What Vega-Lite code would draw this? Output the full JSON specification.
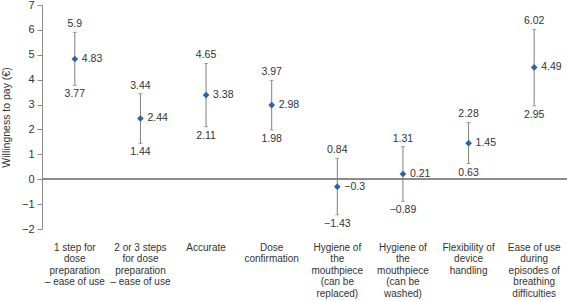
{
  "$schema": "https://vega.github.io/schema/vega-lite/v6.json",
  "autosize": {"type": "none"},
  "width": 525,
  "height": 224,
  "padding": {"left": 42, "top": 5, "right": 0, "bottom": 72},
  "background": "white",
  "config": {
    "view": {"stroke": null},
    "font": "Liberation Sans",
    "axis": {"labelFont": "Liberation Sans", "titleFont": "Liberation Sans", "labelColor": "#333333", "titleColor": "#333333"},
    "axisY": {
      "titleFontSize": 10.5, "titleFontWeight": "normal", "titlePadding": 10,
      "grid": false, "domainColor": "#8c8c8c", "tickColor": "#8c8c8c", "tickSize": 5,
      "labelFontSize": 11, "labelPadding": 3, "labelOverlap": false, "tickCount": 10
    }
  },
  "data": {
    "values": [
      {"cat": "1 step for|dose|preparation|– ease of use", "mean": 4.83, "upper": 5.9, "lower": 3.77},
      {"cat": "2 or 3 steps|for dose|preparation|– ease of use", "mean": 2.44, "upper": 3.44, "lower": 1.44},
      {"cat": "Accurate", "mean": 3.38, "upper": 4.65, "lower": 2.11},
      {"cat": "Dose|confirmation", "mean": 2.98, "upper": 3.97, "lower": 1.98},
      {"cat": "Hygiene of|the|mouthpiece|(can be|replaced)", "mean": -0.3, "upper": 0.84, "lower": -1.43},
      {"cat": "Hygiene of|the|mouthpiece|(can be|washed)", "mean": 0.21, "upper": 1.31, "lower": -0.89},
      {"cat": "Flexibility of|device|handling", "mean": 1.45, "upper": 2.28, "lower": 0.63},
      {"cat": "Ease of use|during|episodes of|breathing|difficulties", "mean": 4.49, "upper": 6.02, "lower": 2.95}
    ]
  },
  "encoding": {
    "x": {
      "field": "cat", "type": "nominal", "sort": null,
      "scale": {"paddingInner": 0, "paddingOuter": 0},
      "axis": {
        "title": null, "domain": false, "ticks": false, "labelAngle": 0,
        "labelPadding": 13, "labelFontSize": 10, "labelLineHeight": 11.6,
        "labelBaseline": "top", "labelAlign": "center", "labelOverlap": false, "labelBound": false,
        "labelExpr": "split(datum.label, '|')"
      }
    }
  },
  "layer": [
    {
      "mark": {"type": "rule", "color": "#8c8c8c", "strokeWidth": 1.5},
      "encoding": {
        "y": {"datum": 0, "type": "quantitative", "scale": {"domain": [-2, 7], "nice": false, "zero": false},
          "axis": {"title": "Willingness to pay (€)", "values": [-2, -1, 0, 1, 2, 3, 4, 5, 6, 7], "format": "d"}},
        "x": null
      }
    },
    {
      "mark": {"type": "rule", "color": "#7f7f7f", "strokeWidth": 1},
      "encoding": {
        "y": {
          "field": "lower", "type": "quantitative",
          "scale": {"domain": [-2, 7], "nice": false, "zero": false},
          "axis": {"title": "Willingness to pay (€)", "values": [-2, -1, 0, 1, 2, 3, 4, 5, 6, 7], "format": "d"}
        },
        "y2": {"field": "upper"}
      }
    },
    {
      "mark": {"type": "tick", "orient": "horizontal", "color": "#7f7f7f", "size": 4, "thickness": 1},
      "encoding": {"y": {"field": "upper", "type": "quantitative", "scale": {"domain": [-2, 7], "nice": false, "zero": false},
          "axis": {"title": "Willingness to pay (€)", "values": [-2, -1, 0, 1, 2, 3, 4, 5, 6, 7], "format": "d"}}}
    },
    {
      "mark": {"type": "tick", "orient": "horizontal", "color": "#7f7f7f", "size": 4, "thickness": 1},
      "encoding": {"y": {"field": "lower", "type": "quantitative", "scale": {"domain": [-2, 7], "nice": false, "zero": false},
          "axis": {"title": "Willingness to pay (€)", "values": [-2, -1, 0, 1, 2, 3, 4, 5, 6, 7], "format": "d"}}}
    },
    {
      "mark": {"type": "point", "shape": "diamond", "filled": true, "color": "#2a64a6", "size": 45, "opacity": 1},
      "encoding": {"y": {"field": "mean", "type": "quantitative", "scale": {"domain": [-2, 7], "nice": false, "zero": false},
          "axis": {"title": "Willingness to pay (€)", "values": [-2, -1, 0, 1, 2, 3, 4, 5, 6, 7], "format": "d"}}}
    },
    {
      "mark": {"type": "text", "align": "left", "baseline": "middle", "dx": 7, "fontSize": 10.5, "color": "#333333"},
      "encoding": {"y": {"field": "mean", "type": "quantitative", "scale": {"domain": [-2, 7], "nice": false, "zero": false},
          "axis": {"title": "Willingness to pay (€)", "values": [-2, -1, 0, 1, 2, 3, 4, 5, 6, 7], "format": "d"}},
        "text": {"field": "mean", "type": "quantitative", "format": "~g"}}
    },
    {
      "mark": {"type": "text", "align": "center", "baseline": "bottom", "dy": -3, "fontSize": 10.5, "color": "#333333"},
      "encoding": {"y": {"field": "upper", "type": "quantitative", "scale": {"domain": [-2, 7], "nice": false, "zero": false},
          "axis": {"title": "Willingness to pay (€)", "values": [-2, -1, 0, 1, 2, 3, 4, 5, 6, 7], "format": "d"}},
        "text": {"field": "upper", "type": "quantitative", "format": "~g"}}
    },
    {
      "mark": {"type": "text", "align": "center", "baseline": "top", "dy": 4, "fontSize": 10.5, "color": "#333333"},
      "encoding": {"y": {"field": "lower", "type": "quantitative", "scale": {"domain": [-2, 7], "nice": false, "zero": false},
          "axis": {"title": "Willingness to pay (€)", "values": [-2, -1, 0, 1, 2, 3, 4, 5, 6, 7], "format": "d"}},
        "text": {"field": "lower", "type": "quantitative", "format": "~g"}}
    }
  ]
}
